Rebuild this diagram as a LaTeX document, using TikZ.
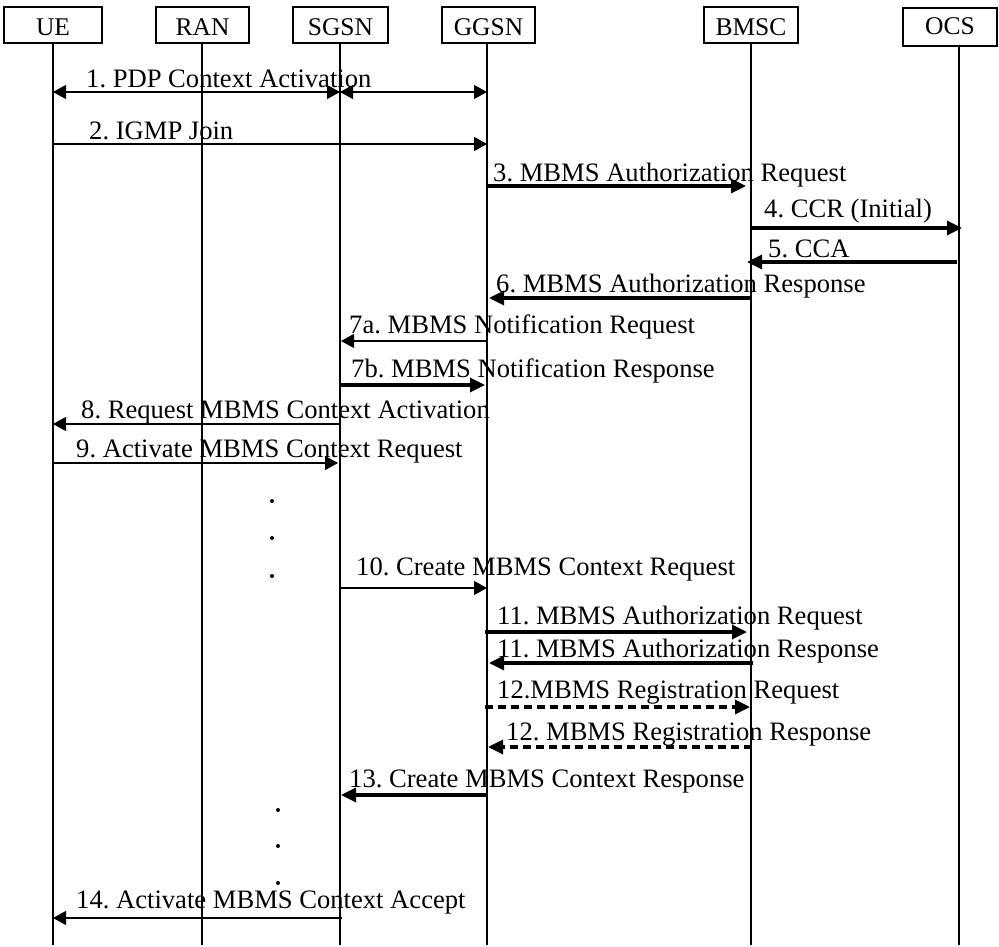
\documentclass[tikz,border=0pt]{standalone}
\usepackage{fontspec}
\setmainfont{Liberation Serif}
\usetikzlibrary{arrows.meta}
\frenchspacing
\begin{document}
\begin{tikzpicture}[x=1pt,y=-1pt,
  actor/.style={draw, line width=1.2pt, inner sep=0pt, minimum height=36pt,
    text height=22pt, text depth=0pt, font=\fontsize{25.5}{30}\selectfont},
  life/.style={line width=1.2pt},
  msgthin/.style={line width=1.2pt, -{Triangle[length=13pt,width=14pt]}},
  dblthin/.style={line width=1.2pt, {Triangle[length=13pt,width=14pt]}-{Triangle[length=13pt,width=14pt]}},
  msgthick/.style={line width=3.3pt, -{Triangle[length=15pt,width=14pt]}},
  msgdash/.style={msgthick, dash pattern=on 8pt off 5pt},
  lbl/.style={anchor=base west, inner sep=0pt, font=\fontsize{26.6}{30}\selectfont},
  dotmark/.style={fill=black}
]
\useasboundingbox (0,0) rectangle (999,947);
\fill[white] (0,0) rectangle (999,947);

% participants
\node[actor, minimum width=98pt] (UE) at (53,25) {UE};
\node[actor, minimum width=93pt] (RAN) at (202.5,25) {RAN};
\node[actor, minimum width=95pt] (SGSN) at (340.5,25) {SGSN};
\node[actor, minimum width=93pt] (GGSN) at (488.5,25) {GGSN};
\node[actor, minimum width=94pt] (BMSC) at (751,25) {BMSC};
\node[actor, minimum width=94pt, minimum height=38pt, text height=16pt, line width=1.5pt] (OCS) at (950,27) {OCS};

% lifelines
\coordinate (bottom) at (0,945);
\coordinate (tUE) at (53,43);   \coordinate (tRAN) at (202,43);
\coordinate (tSGSN) at (340,43); \coordinate (tGGSN) at (487,43);
\coordinate (tBMSC) at (751,43); \coordinate (tOCS) at (959,46);
\draw[life] (tUE) -- (tUE |- bottom);
\draw[life] (tRAN) -- (tRAN |- bottom);
\draw[life] (tSGSN) -- (tSGSN |- bottom);
\draw[life] (tGGSN) -- (tGGSN |- bottom);
\draw[life] (tBMSC) -- (tBMSC |- bottom);
\draw[life] (tOCS) -- (tOCS |- bottom);

% 1
\coordinate (a1) at (53,92); \coordinate (b1) at (340,92); \coordinate (c1) at (487,92);
\draw[dblthin] (a1) -- (b1);
\draw[dblthin] (b1) -- (c1);
\node[lbl] (l1) at (86,88) {1. PDP Context Activation};
% 2
\coordinate (a2) at (53,144); \coordinate (b2) at (487,144);
\draw[msgthin] (a2) -- (b2);
\node[lbl] (l2) at (89,140) {2. IGMP Join};
% 3
\coordinate (a3) at (487,186); \coordinate (b3) at (746,186);
\draw[msgthick] (a3) -- (b3);
\node[lbl] (l3) at (493,182) {3. MBMS Authorization Request};
% 4
\coordinate (a4) at (751,228); \coordinate (b4) at (962,228);
\draw[msgthick] (a4) -- (b4);
\node[lbl] (l4) at (764,217) {4. CCR (Initial)};
% 5
\coordinate (a5) at (957,262); \coordinate (b5) at (747,262);
\draw[msgthick] (a5) -- (b5);
\node[lbl] (l5) at (768,257) {5. CCA};
% 6
\coordinate (a6) at (751,298); \coordinate (b6) at (489,298);
\draw[msgthick] (a6) -- (b6);
\node[lbl] (l6) at (496,292) {6. MBMS Authorization Response};
% 7a
\coordinate (a7) at (487,341); \coordinate (b7) at (341,341);
\draw[msgthin] (a7) -- (b7);
\node[lbl] (l7a) at (349,333) {7a. MBMS Notification Request};
% 7b
\coordinate (a7b) at (340,385); \coordinate (b7b) at (485,385);
\draw[msgthick] (a7b) -- (b7b);
\node[lbl] (l7b) at (351,377) {7b. MBMS Notification Response};
% 8
\coordinate (a8) at (340,424); \coordinate (b8) at (53,424);
\draw[msgthin] (a8) -- (b8);
\node[lbl] (l8) at (81,418) {8. Request MBMS Context Activation};
% 9
\coordinate (a9) at (53,463); \coordinate (b9) at (338,463);
\draw[msgthin] (a9) -- (b9);
\node[lbl] (l9) at (76,457) {9. Activate MBMS Context Request};
% dots
\fill[dotmark] (272,501) circle (2pt);
\fill[dotmark] (272,538) circle (2pt);
\fill[dotmark] (272,576) circle (2pt);
% 10
\coordinate (a10) at (340,588); \coordinate (b10) at (487,588);
\draw[msgthin] (a10) -- (b10);
\node[lbl] (l10) at (356,575) {10. Create MBMS Context Request};
% 11a
\coordinate (a11) at (485,632); \coordinate (b11) at (747,632);
\draw[msgthick] (a11) -- (b11);
\node[lbl] (l11a) at (497,624) {11. MBMS Authorization Request};
% 11b
\coordinate (a11b) at (753,663); \coordinate (b11b) at (489,663);
\draw[msgthick] (a11b) -- (b11b);
\node[lbl] (l11b) at (497,657) {11. MBMS Authorization Response};
% 12a
\coordinate (a12) at (485,707); \coordinate (b12) at (750,707);
\draw[msgdash] (a12) -- (b12);
\node[lbl] (l12a) at (497,698) {12.MBMS Registration Request};
% 12b
\coordinate (a12b) at (752,747); \coordinate (b12b) at (488,747);
\draw[msgdash] (a12b) -- (b12b);
\node[lbl] (l12b) at (506,740) {12. MBMS Registration Response};
% 13
\coordinate (a13) at (488,795); \coordinate (b13) at (341,795);
\draw[msgthick] (a13) -- (b13);
\node[lbl] (l13) at (349,787) {13. Create MBMS Context Response};
% dots
\fill[dotmark] (278,810) circle (2pt);
\fill[dotmark] (278,846) circle (2pt);
\fill[dotmark] (278,883) circle (2pt);
% 14
\coordinate (a14) at (342,918); \coordinate (b14) at (53,918);
\draw[msgthin] (a14) -- (b14);
\node[lbl] (l14) at (76,908) {14. Activate MBMS Context Accept};
\end{tikzpicture}
\end{document}
